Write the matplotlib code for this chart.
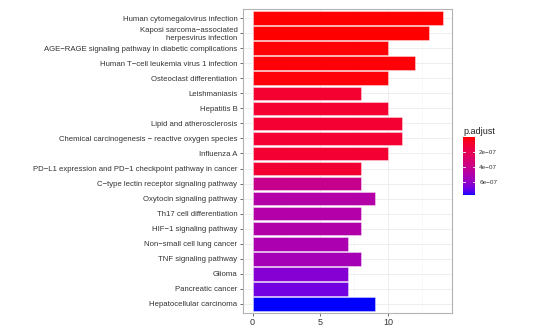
import numpy as np
import matplotlib
matplotlib.use('Agg')
import matplotlib.pyplot as plt
from matplotlib.colors import ListedColormap, Normalize

plt.rcParams['font.family'] = ['Liberation Sans', 'DejaVu Sans']

# pathways, top to bottom
pathways = [
    "Human cytomegalovirus infection",
    "Kaposi sarcoma\u2212associated\nherpesvirus infection",
    "AGE\u2212RAGE signaling pathway in diabetic complications",
    "Human T\u2212cell leukemia virus 1 infection",
    "Osteoclast differentiation",
    "Leishmaniasis",
    "Hepatitis B",
    "Lipid and atherosclerosis",
    "Chemical carcinogenesis \u2212 reactive oxygen species",
    "Influenza A",
    "PD\u2212L1 expression and PD\u22121 checkpoint pathway in cancer",
    "C\u2212type lectin receptor signaling pathway",
    "Oxytocin signaling pathway",
    "Th17 cell differentiation",
    "HIF\u22121 signaling pathway",
    "Non\u2212small cell lung cancer",
    "TNF signaling pathway",
    "Glioma",
    "Pancreatic cancer",
    "Hepatocellular carcinoma",
]
counts = [14, 13, 10, 12, 10, 8, 10, 11, 11, 10, 8, 8, 9, 8, 8, 7, 8, 7, 7, 9]
p_adjust = [1.0e-9, 3e-9, 8e-9, 1.1e-8, 1.5e-8, 1.0e-7, 1.01e-7, 1.02e-7, 1.03e-7, 1.04e-7,
            1.07e-7, 4.06e-7, 4.92e-7, 4.96e-7, 5.0e-7, 5.23e-7, 5.46e-7, 6.4e-7, 6.8e-7, 7.8e-7]
cbar_ticks = [2e-7, 4e-7, 6e-7]
cbar_labels = ["2e\u221207", "4e\u221207", "6e\u221207"]

# red -> blue gradient interpolated in CIELAB, like ggplot
M = np.array([[0.4124, 0.3576, 0.1805], [0.2126, 0.7152, 0.0722], [0.0193, 0.1192, 0.9505]])
white = np.array([0.95047, 1.0, 1.08883])

def to_lab(rgb):
    rgb = np.asarray(rgb, float)
    c = np.where(rgb > 0.04045, ((rgb + 0.055) / 1.055) ** 2.4, rgb / 12.92)
    xyz = M @ c / white
    f = np.where(xyz > 0.008856, np.cbrt(xyz), 7.787 * xyz + 16 / 116)
    return np.array([116 * f[1] - 16, 500 * (f[0] - f[1]), 200 * (f[1] - f[2])])

def from_lab(lab):
    fy = (lab[0] + 16) / 116
    f = np.array([fy + lab[1] / 500, fy, fy - lab[2] / 200])
    xyz = np.where(f ** 3 > 0.008856, f ** 3, (f - 16 / 116) / 7.787) * white
    c = np.linalg.solve(M, xyz)
    c = np.clip(c, 0, None)
    rgb = np.where(c > 0.0031308, 1.055 * c ** (1 / 2.4) - 0.055, 12.92 * c)
    return np.clip(rgb, 0, 1)

lab_lo, lab_hi = to_lab([1, 0, 0]), to_lab([0, 0, 1])
cmap = ListedColormap([from_lab(lab_lo + t * (lab_hi - lab_lo)) for t in np.linspace(0, 1, 256)])
pmin, pmax = min(p_adjust), max(p_adjust)
norm = Normalize(vmin=pmin, vmax=pmax)

fig = plt.figure(figsize=(5.38, 3.29), dpi=100)
ax = fig.add_axes([243 / 538, 1 - 313 / 329, 209 / 538, 304 / 329])

y = np.arange(len(pathways))
ax.barh(y, counts, height=0.9, color=cmap(norm(p_adjust)),
        edgecolor=(1, 1, 1, 0.45), linewidth=0.6, zorder=3)
ax.set_ylim(len(pathways) - 0.4, -0.6)
ax.set_xlim(-0.7, 14.7)
ax.set_yticks(y)
ax.set_yticklabels(pathways, fontsize=5.6, color='#333333', linespacing=1.15)
ax.set_xticks([0, 5, 10])
ax.set_xticks([2.5, 7.5, 12.5], minor=True)
ax.tick_params(axis='x', labelsize=6.5, colors='#333333', length=2.5, width=0.5, pad=0.8)
ax.tick_params(axis='x', which='minor', length=0)
ax.tick_params(axis='y', length=2.5, width=0.5, colors='#333333', pad=1.5)
ax.grid(True, which='major', color='#ebebeb', linewidth=0.6, zorder=0)
ax.grid(True, which='minor', axis='x', color='#f4f4f4', linewidth=0.4, zorder=0)
ax.set_axisbelow(True)
for s in ax.spines.values():
    s.set_color('#b3b3b3')
    s.set_linewidth(0.8)

# colour bar, low p on top
cax = fig.add_axes([463 / 538, 1 - 195 / 329, 12 / 538, 58 / 329])
grad = np.linspace(pmin, pmax, 200).reshape(-1, 1)
cax.imshow(grad, cmap=cmap, norm=norm, aspect='auto', origin='upper',
           extent=[0, 1, pmax, pmin])
cax.set_xlim(0, 1)
cax.set_ylim(pmax, pmin)
cax.set_xticks([])
cax.yaxis.tick_right()
cax.set_yticks(cbar_ticks)
cax.set_yticklabels(cbar_labels)
cax.tick_params(axis='y', labelsize=4.6, colors='#333333', length=0, pad=3)
for s in cax.spines.values():
    s.set_visible(False)
for t in cbar_ticks:
    cax.plot([0, 0.2], [t, t], color='white', lw=0.6)
    cax.plot([0.8, 1], [t, t], color='white', lw=0.6)
fig.text(463 / 538, 1 - 131 / 329, "p.adjust", fontsize=6.5, color='#222222', va='center')

fig.savefig('out.png', dpi=100)
